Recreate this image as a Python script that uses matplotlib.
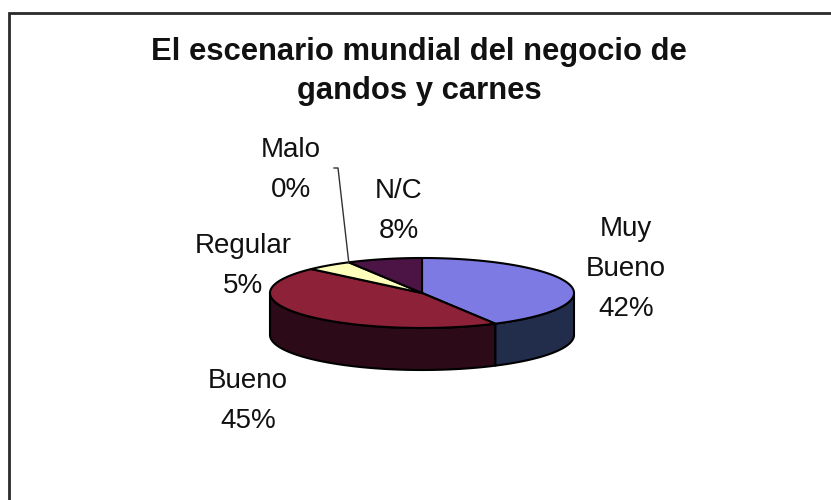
import numpy as np
import matplotlib
matplotlib.use("Agg")
import matplotlib.pyplot as plt
from matplotlib.patches import Polygon

# ---- data ----
categories = ["Muy Bueno", "Bueno", "Regular", "Malo", "N/C"]
percentages = [42, 45, 5, 0, 8]
label_lines = [["Muy", "Bueno"], ["Bueno"], ["Regular"], ["Malo"], ["N/C"]]
title_lines = ["El escenario mundial del negocio de", "gandos y carnes"]

top_colors = ["#7D7BE3", "#8C2137", "#FFFFBC", "#C8C8F0", "#4C1444"]
side_colors = ["#222D4C", "#2C0A17", "#8C8C5E", "#5A5A80", "#260822"]

# ---- layout ----
W, H = 831, 500
fig = plt.figure(figsize=(W / 100, H / 100), dpi=100)
ax = fig.add_axes([0, 0, 1, 1])
ax.set_xlim(0, W)
ax.set_ylim(H, 0)
ax.axis("off")

# chart frame: only the left and top edges fall inside the picture
ax.plot([8.5, 8.5, W + 10], [H + 10, 12.5, 12.5], color="#2a2a2a",
        linewidth=2.0, zorder=0, solid_joinstyle="miter")

FONT = "Liberation Sans"
for i, line in enumerate(title_lines):
    ax.text(419, 60 + i * 39, line, ha="center", va="baseline",
            fontsize=22.3, fontweight="bold", family=FONT, color="#111111")

# pie geometry (pixel units)
cx, cy, rx, ry, depth = 422, 293, 152, 35, 42
start = 90.0


def pt(t_deg, dy=0.0):
    t = np.radians(t_deg)
    return cx + rx * np.cos(t), cy - ry * np.sin(t) + dy


fr = np.array(percentages, dtype=float) / sum(percentages)
bounds = start - 360 * np.concatenate([[0], np.cumsum(fr)])

# sides (front half: angles between -180 and 0)
for i in range(len(categories)):
    a1, a2 = bounds[i], bounds[i + 1]
    hi, lo = min(a1, 0.0), max(a2, -180.0)
    if hi <= lo:
        continue
    ts = np.linspace(hi, lo, 80)
    topx, topy = pt(ts)
    botx, boty = pt(ts[::-1], depth)
    xs = np.concatenate([topx, botx])
    ys = np.concatenate([topy, boty])
    ax.add_patch(Polygon(np.column_stack([xs, ys]), closed=True,
                         facecolor=side_colors[i], edgecolor="black",
                         linewidth=1.5, joinstyle="round", zorder=1))

# tops
for i in range(len(categories)):
    a1, a2 = bounds[i], bounds[i + 1]
    if a1 - a2 <= 0:
        continue
    ts = np.linspace(a1, a2, 120)
    ax_, ay_ = pt(ts)
    xs = np.concatenate([[cx], ax_])
    ys = np.concatenate([[cy], ay_])
    ax.add_patch(Polygon(np.column_stack([xs, ys]), closed=True,
                         facecolor=top_colors[i], edgecolor="black",
                         linewidth=1.5, joinstyle="round", zorder=2))

# labels
label_pos = [(626, 236), (248, 388), (243, 253), (291, 157), (399, 198)]
gap = 40
for i, cat in enumerate(categories):
    x, y0 = label_pos[i]
    lines = label_lines[i] + [f"{percentages[i]}%"]
    for j, s in enumerate(lines):
        ax.text(x, y0 + j * gap, s, ha="center", va="baseline", fontsize=20,
                family=FONT, color="#111111", zorder=3)

# leader line for the 0% slice
mid = (bounds[3] + bounds[4]) / 2
ex, ey = pt(mid)
ax.plot([334, 338, ex], [168, 168, ey], color="#333333", linewidth=1.0, zorder=3)

fig.savefig("out.png", dpi=100, facecolor="white")
